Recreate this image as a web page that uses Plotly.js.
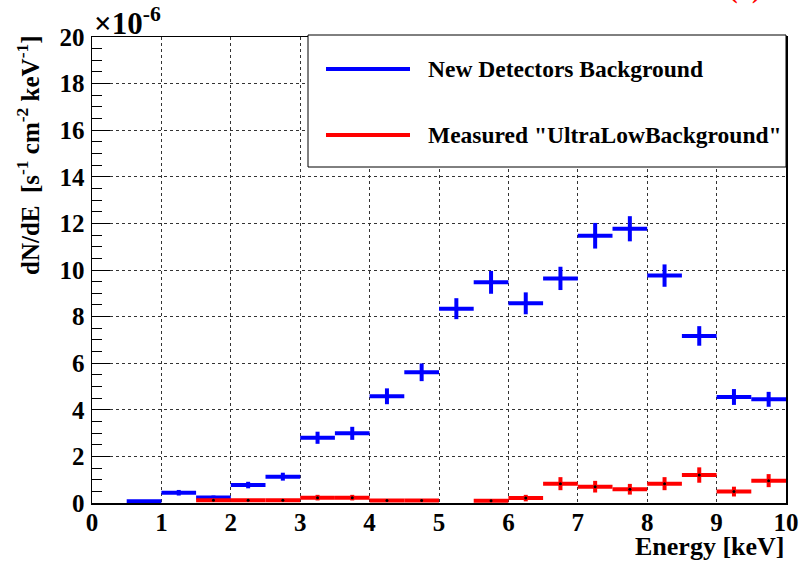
<!DOCTYPE html>
<html>
<head>
<meta charset="utf-8">
<script src="https://cdn.plot.ly/plotly-3.0.1.min.js"></script>
<style>html,body{margin:0;padding:0;background:#fff;}#chart{width:800px;height:562px;}</style>
</head>
<body>
<div id="chart"></div>
<script>
// Data (values in units of 1e-6 s^-1 cm^-2 keV^-1)
const blueEnergy = [0.75,1.25,1.75,2.25,2.75,3.25,3.75,4.25,4.75,5.25,5.75,6.25,6.75,7.25,7.75,8.25,8.75,9.25,9.75];
const blueRate   = [0.08,0.44,0.24,0.77,1.13,2.80,2.99,4.58,5.61,8.34,9.47,8.57,9.64,11.47,11.77,9.76,7.17,4.55,4.45];
const blueErr    = [0.03,0.12,0.08,0.14,0.17,0.26,0.28,0.34,0.38,0.45,0.49,0.47,0.50,0.55,0.54,0.48,0.42,0.34,0.32];
const redEnergy  = [1.75,2.25,2.75,3.25,3.75,4.25,4.75,5.75,6.25,6.75,7.25,7.75,8.25,8.75,9.25,9.75];
const redRate    = [0.12,0.12,0.12,0.23,0.23,0.11,0.11,0.10,0.21,0.83,0.70,0.59,0.83,1.20,0.49,0.96];
const redErr     = [0.04,0.04,0.04,0.12,0.12,0.04,0.04,0.04,0.14,0.28,0.25,0.23,0.28,0.33,0.21,0.28];
const binHalfWidth = 0.25;
const seriesNames = ['New Detectors Background', 'Measured "UltraLowBackground"'];
const xTickVals = [0,1,2,3,4,5,6,7,8,9,10];
const yTickVals = [0,2,4,6,8,10,12,14,16,18,20];

const F = "'Liberation Serif', 'Times New Roman', Times, serif";

function hist(xs, ys, es, color, dot) {
  return {
    type: 'scatter', mode: 'markers', x: xs, y: ys,
    marker: {size: dot ? 3 : 1, color: dot ? '#000' : color, opacity: dot ? 1 : 0},
    error_x: {type: 'data', array: xs.map(() => binHalfWidth), color: color, thickness: 4, width: 0},
    error_y: {type: 'data', array: es, color: color, thickness: 4, width: 0},
    showlegend: false, hoverinfo: 'skip'
  };
}

const traces = [
  hist(blueEnergy, blueRate, blueErr, '#0000ff', false),
  hist(redEnergy, redRate, redErr, '#ff0000', true)
];

const W = 800, H = 562, ml = 92, mr = 14, mt = 37, mb = 59;
const pw = W - ml - mr, ph = H - mt - mb;
const px = v => (v - ml) / pw;          // pixel x -> paper
const py = v => (H - mb - v) / ph;      // pixel y -> paper
const b = s => '<b>' + s + '</b>';

const layout = {
  width: W, height: H,
  margin: {l: ml, r: mr, t: mt, b: mb, pad: 0},
  paper_bgcolor: '#fff', plot_bgcolor: '#fff',
  font: {family: F, size: 22, color: '#000', weight: 700},
  xaxis: {
    range: [0, 10], tickvals: xTickVals, ticktext: xTickVals.map(v => b(String(v))),
    showgrid: true, gridcolor: '#333', griddash: 'dot', gridwidth: 1,
    zeroline: false, showline: true, linecolor: '#000', linewidth: 1.5, mirror: true,
    ticks: '', tickfont: {family: F, size: 25, color: '#000'}, ticklabelstandoff: -4
  },
  yaxis: {
    range: [0, 20], tickvals: yTickVals, ticktext: yTickVals.map(v => b(String(v))),
    showgrid: true, gridcolor: '#333', griddash: 'dot', gridwidth: 1,
    zeroline: false, showline: true, linecolor: '#000', linewidth: 1.5, mirror: true,
    ticks: 'inside', ticklen: 18, tickwidth: 1, tickcolor: '#000',
    minor: {dtick: 0.5, ticks: 'inside', ticklen: 10, tickwidth: 1, tickcolor: '#000', showgrid: false},
    tickfont: {family: F, size: 25, color: '#000'}, ticklabelstandoff: 1
  },
  shapes: [
    {type: 'rect', xref: 'paper', yref: 'paper', x0: px(308), x1: px(786), y0: py(167), y1: py(35),
     line: {color: '#000', width: 1}, fillcolor: '#fff', layer: 'above'},
    {type: 'line', xref: 'paper', yref: 'paper', x0: px(326), x1: px(410), y0: py(69), y1: py(69),
     line: {color: '#0000ff', width: 4}, layer: 'above'},
    {type: 'line', xref: 'paper', yref: 'paper', x0: px(326), x1: px(410), y0: py(135), y1: py(135),
     line: {color: '#ff0000', width: 4}, layer: 'above'}
  ],
  annotations: [
    {xref: 'paper', yref: 'paper', x: px(426), y: py(69), xanchor: 'left', yanchor: 'middle',
     text: b(seriesNames[0]), showarrow: false, font: {family: F, size: 23.5, color: '#000'}},
    {xref: 'paper', yref: 'paper', x: px(426), y: py(135), xanchor: 'left', yanchor: 'middle',
     text: b(seriesNames[1]), showarrow: false, font: {family: F, size: 23.5, color: '#000'}},
    {xref: 'paper', yref: 'paper', x: 1, y: py(546), xanchor: 'right', yanchor: 'middle',
     text: b('Energy [keV]'), showarrow: false, font: {family: F, size: 26, color: '#000'}},
    {xref: 'paper', yref: 'paper', x: px(10), y: py(33), xanchor: 'left', yanchor: 'top', textangle: -90,
     text: b('dN/dE  [s<sup>-1</sup> cm<sup>-2</sup> keV<sup>-1</sup>]'), showarrow: false,
     font: {family: F, size: 25, color: '#000'}},
    {xref: 'paper', yref: 'paper', x: px(92), y: py(43), xanchor: 'left', yanchor: 'bottom',
     text: b('×10<sup>-6</sup>'), showarrow: false, font: {family: F, size: 31, color: '#000'}},
    {xref: 'paper', yref: 'paper', x: px(745), y: py(6), xanchor: 'center', yanchor: 'bottom',
     text: b('(b)'), showarrow: false, font: {family: F, size: 26, color: '#ff0000'}}
  ]
};

Plotly.newPlot('chart', traces, layout, {displayModeBar: false, staticPlot: true});
</script>
</body>
</html>
